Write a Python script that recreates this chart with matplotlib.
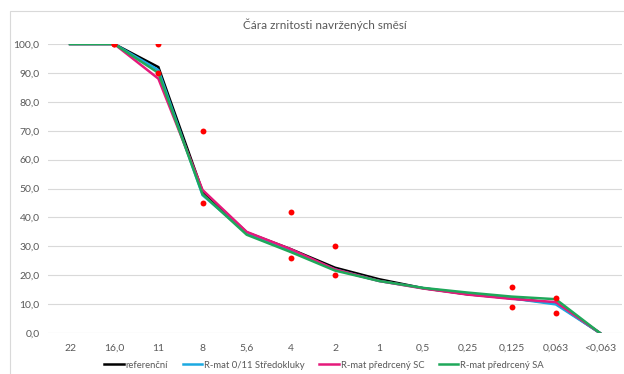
import matplotlib.pyplot as plt
import matplotlib.patches as patches
from matplotlib.ticker import FuncFormatter

# sieve sizes (categories on x axis)
sizes = ["22", "16,0", "11", "8", "5,6", "4", "2", "1", "0,5", "0,25", "0,125", "0,063", "<0,063"]

# passing percentages
referencni = [100, 100, 92, 49, 34.8, 29, 22.6, 18.6, 15.5, 13.4, 12, 10.3, 0]
stredokluky = [100, 100, 91, 47.7, 34.5, 28.5, 22, 18, 15.5, 13.6, 12, 9.9, 0]
predrceny_sc = [100, 100, 88, 49.5, 35, 29, 22, 18, 15.4, 13.3, 11.8, 10.7, 0]
predrceny_sa = [100, 100, 90, 48, 34, 28, 21.6, 18, 15.6, 14, 12.6, 11.7, 0]

# grading envelope limits (red dots), None where not given
limit_upper = [None, 100, 100, 70, None, 42, 30, None, None, None, 16, 12, None]
limit_lower = [None, 100, 90, 45, None, 26, 20, None, None, None, 9, 7, None]

plt.rcParams["font.family"] = ["Lato", "DejaVu Sans"]

fig = plt.figure(figsize=(6.24, 3.74), dpi=100)
ax = fig.add_axes([48 / 624, 1 - 333 / 374, 574 / 624, 289 / 374])

# chart frame
fig.patches.append(patches.Rectangle((10 / 624, -0.05), 1.0, 1 - 11 / 374 + 0.05,
                                     transform=fig.transFigure, fill=False,
                                     edgecolor="#D9D9D9", linewidth=0.8))

x = list(range(len(sizes)))
series = [
    (referencni, "#000000", "referenční"),
    (stredokluky, "#1CA9E1", "R-mat 0/11 Středokluky"),
    (predrceny_sc, "#E5197B", "R-mat předrcený SC"),
    (predrceny_sa, "#1FA85A", "R-mat předrcený SA"),
]
for values, color, label in series:
    ax.plot(x, values, color=color, linewidth=1.8, label=label, solid_joinstyle="miter")

for lim in (limit_upper, limit_lower):
    px = [i for i, v in enumerate(lim) if v is not None]
    py = [v for v in lim if v is not None]
    ax.scatter(px, py, color="#FF0000", s=18, zorder=5, linewidths=0)

ax.set_xlim(-0.5, len(sizes) - 0.5)
ax.set_ylim(0, 100)
ax.set_xticks(x)
ax.set_xticklabels(sizes)
ax.set_yticks(range(0, 101, 10))
ax.yaxis.set_major_formatter(FuncFormatter(lambda v, p: f"{v:.1f}".replace(".", ",")))
ax.tick_params(length=0, labelsize=7.5, labelcolor="#595959")
ax.tick_params(axis="x", pad=8)
ax.tick_params(axis="y", pad=6)
ax.grid(axis="y", color="#D9D9D9", linewidth=0.8)
ax.set_axisbelow(True)
for s in ax.spines.values():
    s.set_visible(False)

fig.text(325 / 624, 1 - 25 / 374, "Čára zrnitosti navržených směsí", ha="center", va="center",
         fontsize=8.5, color="#595959")

ax.legend(loc="center", bbox_to_anchor=((324 - 48) / 574, (365 - 333) / -289), ncol=4,
          frameon=False, fontsize=6.8, labelcolor="#595959", handlelength=2.1,
          handletextpad=0.2, columnspacing=1.5)

fig.savefig("out.png", dpi=100)
